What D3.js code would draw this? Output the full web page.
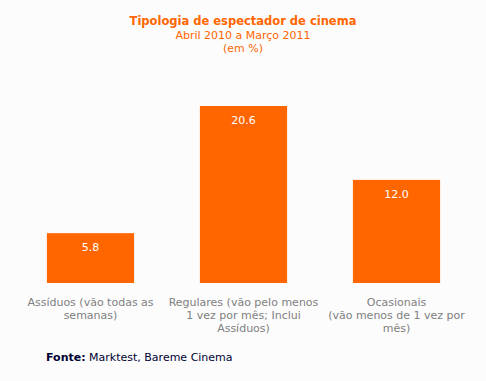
<!DOCTYPE html>
<html><head><meta charset="utf-8">
<script src="https://cdn.jsdelivr.net/npm/d3@7"></script>
<style>body{margin:0;background:#fcfcfc;}svg{display:block;}</style>
</head><body>
<script>
const categories = [
  ["Assíduos (vão todas as", "semanas)"],
  ["Regulares (vão pelo menos", "1 vez por mês; Inclui", "Assíduos)"],
  ["Ocasionais", "(vão menos de 1 vez por", "mês)"]
];
const values = [5.8, 20.6, 12.0];
const titleLines = ["Tipologia de espectador de cinema", "Abril 2010 a Março 2011", "(em %)"];

const W = 486, H = 381;
const svg = d3.select("body").append("svg").attr("width", W).attr("height", H)
  .style("font-family", "'DejaVu Sans', Verdana, sans-serif");
svg.append("rect").attr("width", W).attr("height", H).attr("fill", "#fcfcfc");

const x = d3.scaleBand().domain(d3.range(values.length)).range([14, 473]).paddingInner(0.43).paddingOuter(0.215);
const y = d3.scaleLinear().domain([0, 20.6]).range([283, 106]);

const t = svg.append("g").attr("text-anchor", "middle").attr("fill", "#ff6600");
t.append("text").attr("x", 243).attr("y", 25).attr("font-weight", "bold").attr("font-size", 11.5).text(titleLines[0]);
t.append("text").attr("x", 243).attr("y", 39).attr("font-size", 11).text(titleLines[1]);
t.append("text").attr("x", 243).attr("y", 52).attr("font-size", 11).text(titleLines[2]);

svg.selectAll("rect.bar").data(values).join("rect").attr("class", "bar")
  .attr("x", (d, i) => x(i)).attr("width", x.bandwidth())
  .attr("y", d => y(d)).attr("height", d => y(0) - y(d)).attr("fill", "#ff6600");

svg.selectAll("text.val").data(values).join("text").attr("class", "val")
  .attr("x", (d, i) => x(i) + x.bandwidth() / 2).attr("y", d => y(d) + 18)
  .attr("text-anchor", "middle").attr("fill", "#ffffff").attr("font-size", 11)
  .text(d => d.toFixed(1));

categories.forEach((lines, i) => {
  const tx = svg.append("text").attr("text-anchor", "middle").attr("fill", "#808080").attr("font-size", 11);
  lines.forEach((l, j) => tx.append("tspan").attr("x", x(i) + x.bandwidth() / 2).attr("y", 305.5 + j * 13).text(l));
});

const f = svg.append("text").attr("x", 46).attr("y", 361).attr("font-size", 11).attr("fill", "#000033");
f.append("tspan").attr("font-weight", "bold").text("Fonte:");
f.append("tspan").text(" Marktest, Bareme Cinema");
</script>
</body></html>
